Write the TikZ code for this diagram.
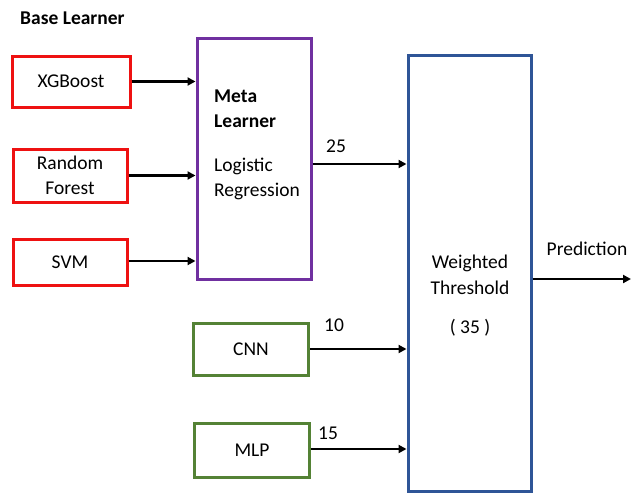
\documentclass[tikz,border=0pt]{standalone}
\usepackage{fontspec}
\setmainfont{Carlito}
\usetikzlibrary{arrows.meta}
\definecolor{cred}{HTML}{EE1111}
\definecolor{cpurple}{HTML}{7030A0}
\definecolor{cblue}{HTML}{2F5597}
\definecolor{cgreen}{HTML}{548235}
\begin{document}
\begin{tikzpicture}[x=1pt,y=-1pt,
  every node/.style={font=\fontsize{19.5}{25.5}\selectfont, inner sep=0pt},
  box/.style={draw, line width=3pt, minimum width=#1},
  redbox/.style={box=114pt, draw=cred},
  greenbox/.style={box=115pt, draw=cgreen},
  conn/.style={line width=2.4pt, -{Triangle[length=8pt,width=8pt]}},
  lbl/.style={}]
\useasboundingbox (0,0) rectangle (634,493);
% base learners
\node[anchor=west, font=\fontsize{19.5}{23}\selectfont\bfseries] (title) at (20,18) {Base Learner};
\node[redbox, minimum width=118pt, minimum height=51pt] (xgb) at (71,81.5) {XGBoost};
\node[redbox, minimum height=53pt, align=center] (rf) at (70,175.5) {Random\\Forest};
\node[redbox, minimum height=46pt] (svm) at (70,262) {SVM};
% meta learner
\node[box=114pt, draw=cpurple, minimum height=241pt] (meta) at (254,158.5) {};
\node[anchor=west, align=left, font=\fontsize{19.5}{25.5}\selectfont\bfseries] (metat) at (214,108.5) {Meta\\Learner};
\node[anchor=west, align=left] (logreg) at (214,179) {Logistic\\Regression};
% weighted threshold
\node[box=123pt, draw=cblue, minimum height=436pt] (wt) at (469.5,273) {};
\node[align=center] (wtt) at (470,275) {Weighted\\Threshold};
\node (wtn) at (470,328) {( 35 )};
% CNN, MLP
\node[greenbox, minimum height=52pt] (cnn) at (251,349) {CNN};
\node[greenbox, minimum height=54pt] (mlp) at (252,450) {MLP};
% connectors
\draw[conn] (xgb.east) -- (xgb.east -| meta.west);
\draw[conn] (rf.east) -- (rf.east -| meta.west);
\draw[conn] ([yshift=1pt]svm.east) -- ([yshift=1pt]svm.east -| meta.west);
\coordinate (m25) at ([yshift=5.5pt]meta.east);
\draw[conn] (meta.east |- 0,164) -- (wt.west |- 0,164);
\draw[conn] (cnn.east) -- (cnn.east -| wt.west);
\draw[conn] ([yshift=1pt]mlp.east) -- ([yshift=1pt]mlp.east -| wt.west);
\coordinate (pend) at (631,279);
\draw[conn] (wt.east |- pend) -- (pend);
% labels
\node (l25) at (336,146) {25};
\node (l10) at (334,325) {10};
\node (l15) at (328,433) {15};
\node (pred) at (587,249) {Prediction};
\end{tikzpicture}
\end{document}
